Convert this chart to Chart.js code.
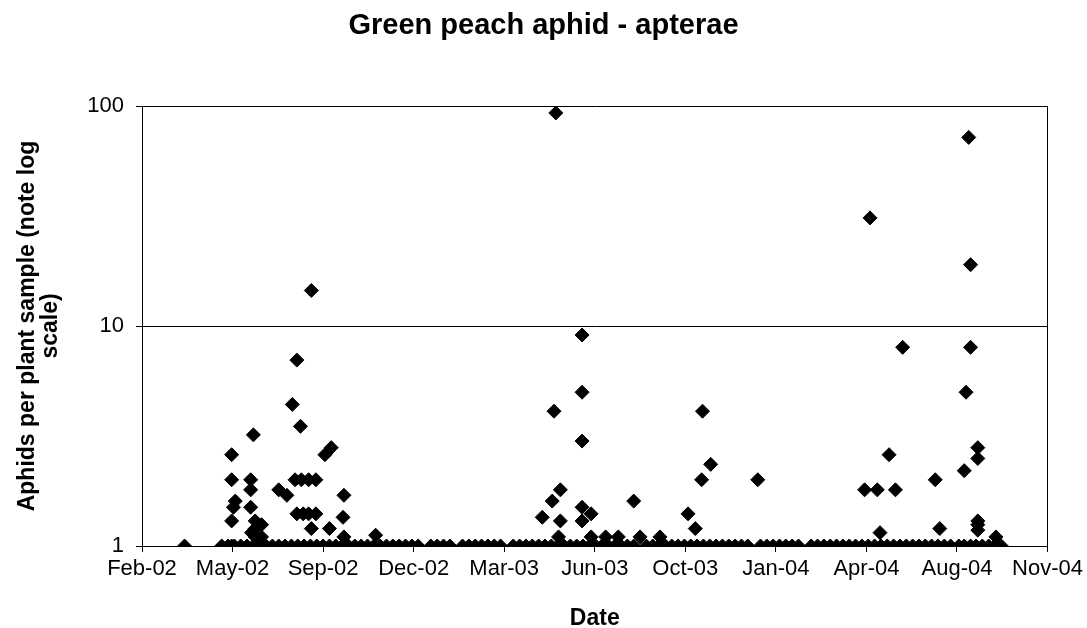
<!DOCTYPE html>
<html lang="en">
<head>
<meta charset="utf-8">
<title>Green peach aphid - apterae</title>
<script src="https://cdn.jsdelivr.net/npm/chart.js@4.4.1/dist/chart.umd.min.js"></script>
<style>
    html, body { margin: 0; padding: 0; background: #fff; }
    #wrap { width: 1087px; height: 628px; position: relative; }
</style>
</head>
<body>
<div id="wrap"><canvas id="aphidChart"></canvas></div>
<script>
// Plant samples: [sampling date, aphids per plant]
const samples2002 = [
    ['2002-04-01', 1],
    ['2002-05-12', 1], ['2002-05-19', 1], ['2002-05-23', 2.6], ['2002-05-23', 2.0], ['2002-05-23', 1.3], ['2002-05-23', 1],
    ['2002-05-25', 1.5], ['2002-05-26', 1], ['2002-05-27', 1.6],
    ['2002-06-02', 1], ['2002-06-09', 1], ['2002-06-13', 2.0], ['2002-06-13', 1.8], ['2002-06-13', 1.5], ['2002-06-14', 1.15],
    ['2002-06-16', 3.2], ['2002-06-16', 1], ['2002-06-18', 1.3], ['2002-06-18', 1.2], ['2002-06-18', 1.1], ['2002-06-23', 1],
    ['2002-06-25', 1.25], ['2002-06-25', 1.1], ['2002-06-30', 1],
    ['2002-07-07', 1], ['2002-07-14', 1.8], ['2002-07-14', 1], ['2002-07-21', 1], ['2002-07-23', 1.7], ['2002-07-28', 1],
    ['2002-07-29', 4.4],
    ['2002-08-01', 2.0], ['2002-08-03', 7.0], ['2002-08-03', 1.4], ['2002-08-04', 1], ['2002-08-07', 3.5], ['2002-08-08', 2.0],
    ['2002-08-10', 1.4], ['2002-08-11', 1], ['2002-08-16', 2.0], ['2002-08-16', 1.4], ['2002-08-18', 1], ['2002-08-19', 14.5],
    ['2002-08-19', 1.2], ['2002-08-24', 2.0], ['2002-08-24', 1.4], ['2002-08-25', 1],
    ['2002-09-01', 1], ['2002-09-03', 2.6], ['2002-09-08', 1.2], ['2002-09-08', 1], ['2002-09-10', 2.8], ['2002-09-15', 1],
    ['2002-09-22', 1], ['2002-09-23', 1.35], ['2002-09-24', 1.7], ['2002-09-24', 1.1], ['2002-09-29', 1],
    ['2002-10-06', 1], ['2002-10-13', 1], ['2002-10-20', 1], ['2002-10-27', 1], ['2002-10-29', 1.12],
    ['2002-11-03', 1], ['2002-11-10', 1], ['2002-11-17', 1], ['2002-11-24', 1],
    ['2002-12-01', 1], ['2002-12-08', 1], ['2002-12-15', 1], ['2002-12-29', 1]
];

const samples2003 = [
    ['2003-01-05', 1], ['2003-01-12', 1], ['2003-01-19', 1],
    ['2003-02-02', 1], ['2003-02-09', 1], ['2003-02-16', 1], ['2003-02-23', 1],
    ['2003-03-02', 1], ['2003-03-09', 1], ['2003-03-16', 1], ['2003-03-30', 1],
    ['2003-04-06', 1], ['2003-04-13', 1], ['2003-04-20', 1], ['2003-04-27', 1],
    ['2003-05-01', 1.35], ['2003-05-04', 1], ['2003-05-11', 1], ['2003-05-12', 1.6], ['2003-05-14', 4.1], ['2003-05-16', 93],
    ['2003-05-18', 1], ['2003-05-19', 1.1], ['2003-05-21', 1.8], ['2003-05-21', 1.3], ['2003-05-25', 1],
    ['2003-06-01', 1], ['2003-06-08', 1], ['2003-06-14', 9.1], ['2003-06-14', 5.0], ['2003-06-14', 3.0], ['2003-06-14', 1.5],
    ['2003-06-14', 1.3], ['2003-06-15', 1], ['2003-06-22', 1], ['2003-06-24', 1.4], ['2003-06-24', 1.1], ['2003-06-29', 1],
    ['2003-07-06', 1], ['2003-07-10', 1.1], ['2003-07-13', 1], ['2003-07-20', 1], ['2003-07-24', 1.1], ['2003-07-27', 1],
    ['2003-08-03', 1], ['2003-08-10', 1.6], ['2003-08-10', 1], ['2003-08-17', 1.1], ['2003-08-24', 1], ['2003-08-31', 1],
    ['2003-09-07', 1], ['2003-09-08', 1.1], ['2003-09-14', 1], ['2003-09-21', 1], ['2003-09-28', 1],
    ['2003-10-05', 1], ['2003-10-09', 1.4], ['2003-10-12', 1], ['2003-10-17', 1.2], ['2003-10-19', 1], ['2003-10-24', 2.0],
    ['2003-10-25', 4.1], ['2003-10-26', 1],
    ['2003-11-02', 1], ['2003-11-03', 2.35], ['2003-11-09', 1], ['2003-11-16', 1], ['2003-11-23', 1], ['2003-11-30', 1],
    ['2003-12-07', 1], ['2003-12-14', 1], ['2003-12-25', 2.0], ['2003-12-28', 1]
];

const samples2004 = [
    ['2004-01-04', 1], ['2004-01-11', 1], ['2004-01-18', 1], ['2004-01-25', 1],
    ['2004-02-01', 1], ['2004-02-08', 1], ['2004-02-22', 1], ['2004-02-29', 1],
    ['2004-03-07', 1], ['2004-03-14', 1], ['2004-03-21', 1], ['2004-03-28', 1],
    ['2004-04-04', 1], ['2004-04-11', 1], ['2004-04-18', 1], ['2004-04-21', 1.8], ['2004-04-25', 1], ['2004-04-27', 31],
    ['2004-05-02', 1], ['2004-05-05', 1.8], ['2004-05-08', 1.15], ['2004-05-09', 1], ['2004-05-16', 1], ['2004-05-18', 2.6],
    ['2004-05-23', 1], ['2004-05-25', 1.8], ['2004-05-30', 1],
    ['2004-06-02', 8.0], ['2004-06-06', 1], ['2004-06-13', 1], ['2004-06-20', 1], ['2004-06-27', 1],
    ['2004-07-04', 1], ['2004-07-08', 2.0], ['2004-07-11', 1], ['2004-07-13', 1.2], ['2004-07-18', 1], ['2004-07-25', 1],
    ['2004-08-03', 1], ['2004-08-09', 2.2], ['2004-08-09', 1], ['2004-08-11', 5.0], ['2004-08-14', 72], ['2004-08-16', 19],
    ['2004-08-16', 8.0], ['2004-08-16', 1], ['2004-08-22', 1], ['2004-08-24', 2.8], ['2004-08-24', 2.5], ['2004-08-24', 1.3],
    ['2004-08-24', 1.25], ['2004-08-24', 1.18], ['2004-08-29', 1],
    ['2004-09-05', 1], ['2004-09-12', 1], ['2004-09-13', 1.1], ['2004-09-19', 1]
];

// Axis labels as printed on the chart
const xTickLabels = ['Feb-02', 'May-02', 'Sep-02', 'Dec-02', 'Mar-03', 'Jun-03', 'Oct-03', 'Jan-04', 'Apr-04', 'Aug-04', 'Nov-04'];
const yTickValues = [1, 10, 100];

// Date axis limits as spreadsheet serial days (13 Feb 2002 .. 9 Nov 2004)
const xMin = 37300;
const xMax = 38300;
const xStep = 100;

// Convert an ISO date to a spreadsheet serial day number
function toSerial(iso) {
    const [y, m, d] = iso.split('-').map(Number);
    return Math.round((Date.UTC(y, m - 1, d) - Date.UTC(1899, 11, 30)) / 86400000);
}

function toPoints(list) {
    return list.map(([date, count]) => ({ x: toSerial(date), y: count }));
}

const allPoints = [].concat(toPoints(samples2002), toPoints(samples2003), toPoints(samples2004));

Chart.defaults.font.family = "'Liberation Sans', Arial, sans-serif";
Chart.defaults.color = '#000';

const ctx = document.getElementById('aphidChart').getContext('2d');

new Chart(ctx, {
    type: 'scatter',
    data: {
        datasets: [{
            label: 'Apterae',
            data: allPoints,
            pointStyle: 'rectRot',
            pointRadius: 7,
            pointHoverRadius: 7,
            backgroundColor: '#000',
            borderColor: '#000',
            borderWidth: 1
        }]
    },
    options: {
        responsive: true,
        maintainAspectRatio: false,
        animation: false,
        layout: {
            padding: { left: 0, right: 0, top: 0, bottom: 0 }
        },
        plugins: {
            legend: { display: false },
            tooltip: { enabled: false },
            title: {
                display: true,
                text: 'Green peach aphid - apterae',
                color: '#000',
                font: { size: 29, weight: 'bold', lineHeight: 1.2 },
                padding: { top: 9, bottom: 62.2 }
            }
        },
        scales: {
            x: {
                type: 'linear',
                min: xMin,
                max: xMax,
                afterFit: scale => { scale.height = 82; },
                ticks: {
                    stepSize: xStep,
                    autoSkip: false,
                    maxRotation: 0,
                    padding: 4,
                    font: { size: 22 },
                    callback: (value, index) => xTickLabels[index]
                },
                grid: {
                    drawTicks: true,
                    tickLength: 6,
                    tickColor: '#000',
                    color: c => (c.tick && c.tick.value === xMax) ? '#000' : 'rgba(0,0,0,0)'
                },
                border: { display: true, color: '#000', width: 1 },
                title: {
                    display: true,
                    text: 'Date',
                    font: { size: 23, weight: 'bold', lineHeight: 1 },
                    padding: { top: 0, bottom: -2 }
                }
            },
            y: {
                type: 'logarithmic',
                min: 1,
                max: 100,
                afterFit: scale => { scale.width = 142; },
                afterBuildTicks: scale => {
                    scale.ticks = yTickValues.map(v => ({ value: v }));
                },
                ticks: {
                    padding: 12,
                    font: { size: 22 },
                    callback: value => String(value)
                },
                grid: {
                    color: '#000',
                    lineWidth: 1,
                    drawTicks: true,
                    tickLength: 6
                },
                border: { display: true, color: '#000', width: 1 },
                title: {
                    display: true,
                    text: ['Aphids per plant sample (note log', 'scale)'],
                    font: { size: 23, weight: 'bold', lineHeight: 1 },
                    padding: { top: 16, bottom: 0 }
                }
            },
            // empty right margin so the title is centred on the whole picture
            yRight: {
                type: 'linear',
                position: 'right',
                display: true,
                afterFit: scale => { scale.width = 36; },
                ticks: { display: false },
                grid: { display: false, drawTicks: false },
                border: { display: false }
            }
        }
    }
});
</script>
</body>
</html>
